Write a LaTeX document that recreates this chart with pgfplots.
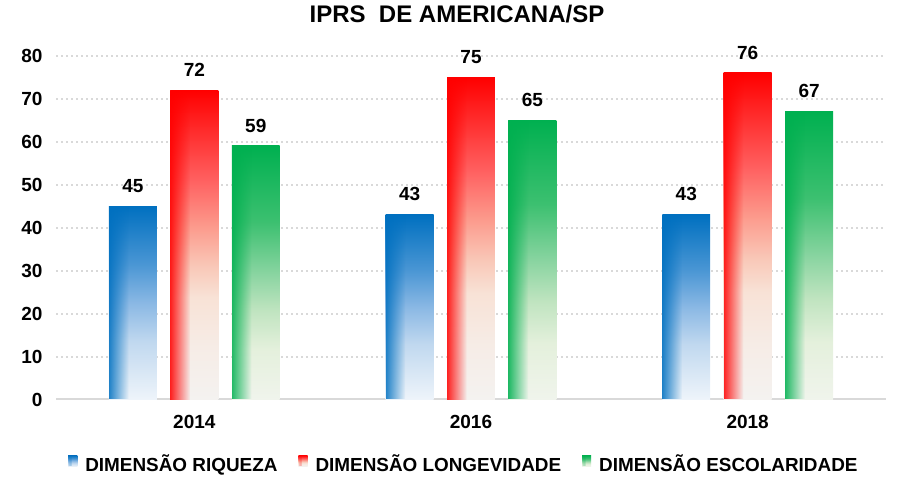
\documentclass[border=0pt]{standalone}
\usepackage{fontspec}
\setmainfont{Liberation Sans}
\usepackage{pgfplots}
\pgfplotsset{compat=1.18}
\usetikzlibrary{fadings}
\definecolor{cblue}{HTML}{0070C0}
\definecolor{cred}{HTML}{FF0000}
\definecolor{cgreen}{HTML}{00B050}
\definecolor{gridc}{HTML}{D9D9D9}
\definecolor{r1}{HTML}{F4F2F0}\definecolor{r2}{HTML}{F6ECE6}\definecolor{r3}{HTML}{F8E2D6}
\definecolor{r4}{HTML}{F9C8B8}\definecolor{r5}{HTML}{FC9A8C}\definecolor{r6}{HTML}{FF6060}\definecolor{r7}{HTML}{FF3535}
\definecolor{b1}{HTML}{EEF4FA}\definecolor{b2}{HTML}{C0D8EF}\definecolor{b3}{HTML}{8AB8E4}\definecolor{b4}{HTML}{4A96D4}
\definecolor{g1}{HTML}{F0F4EC}\definecolor{g2}{HTML}{E4F0DC}\definecolor{g3}{HTML}{C0E4C0}\definecolor{g4}{HTML}{88D4A0}\definecolor{g5}{HTML}{3CC070}
\pgfdeclareverticalshading{redv}{100bp}{color(0bp)=(r1); color(25bp)=(r1); color(33.5bp)=(r2); color(41.5bp)=(r3); color(46.5bp)=(r4); color(53bp)=(r5); color(60.5bp)=(r6); color(67bp)=(r7); color(75bp)=(cred); color(100bp)=(cred)}
\pgfdeclareverticalshading{bluev}{100bp}{color(0bp)=(b1); color(25bp)=(b1); color(40bp)=(b2); color(50bp)=(b3); color(60bp)=(b4); color(75bp)=(cblue); color(100bp)=(cblue)}
\pgfdeclareverticalshading{greenv}{100bp}{color(0bp)=(g1); color(25bp)=(g1); color(35bp)=(g2); color(42.5bp)=(g3); color(50bp)=(g4); color(60bp)=(g5); color(75bp)=(cgreen); color(100bp)=(cgreen)}
\begin{tikzfadingfrompicture}[name=leftstrip]
  \shade[left color=transparent!0, right color=transparent!100] (-1cm,-1cm) rectangle (-0.15cm,1cm);
  \fill[transparent!100] (-0.15cm,-1cm) rectangle (1cm,1cm);
\end{tikzfadingfrompicture}
\newcommand\lbl{\fontsize{19}{22}\selectfont\bfseries}
\pgfplotsset{
  mybase/.style n args={2}{draw=none, shade, shading=#2,
    nodes near coords, nodes near coords style={font=\lbl, text=black, yshift=10pt},
    legend image code/.code={\path[draw=none, shade, shading=#2] (0pt,-3pt) rectangle (9pt,8pt);
      \path[draw=none, fill=#1, path fading=leftstrip] (0pt,-3pt) rectangle (9pt,8pt);}},
  myover/.style={draw=none, fill=#1, path fading=leftstrip},
}
\newcommand\onebar[5]{%
  \addplot[mybase={#1}{#2}, bar shift=#3, forget plot] coordinates {(#4,#5)};
  \addplot[myover=#1, bar shift=#3, forget plot] coordinates {(#4,#5)};
}
\begin{document}
\begin{tikzpicture}
\begin{axis}[
  at={(56pt,86.5pt)}, anchor=south west,
  scale only axis, width=830pt, height=343.8pt,
  xmin=-0.5, xmax=2.5, ymin=0, ymax=80,
  ytick={0,10,...,80}, xtick={0,1,2}, xticklabels={2014,2016,2018},
  axis x line*=bottom, axis y line*=left,
  y axis line style={draw=none},
  x axis line style={draw=gridc, line width=2pt},
  major tick length=0pt,
  ymajorgrids, grid style={draw=gridc, line width=2pt, dash pattern=on 2pt off 3pt},
  /pgf/number format/assume math mode=true,
  tick label style={font=\lbl, text=black},
  xticklabel style={yshift=-12pt},
  yticklabel style={xshift=-10pt},
  ybar, bar width=0.1733,
  legend columns=3,
  legend style={draw=none, at={(0.4915,-0.186)}, anchor=center, font=\fontsize{18.9}{22}\selectfont\bfseries,
    /tikz/every odd column/.append style={column sep=6pt},
    /tikz/every even column/.append style={column sep=19pt}},
  clip=false,
]
\onebar{cblue}{bluev}{-0.222}{0}{45}
\onebar{cblue}{bluev}{-0.222}{1}{43}
\onebar{cblue}{bluev}{-0.222}{2}{43}
\onebar{cred}{redv}{0}{0}{72}
\onebar{cred}{redv}{0}{1}{75}
\onebar{cred}{redv}{0}{2}{76}
\onebar{cgreen}{greenv}{0.222}{0}{59}
\onebar{cgreen}{greenv}{0.222}{1}{65}
\onebar{cgreen}{greenv}{0.222}{2}{67}
\addlegendimage{mybase={cblue}{bluev}}
\addlegendentry{DIMENSÃO RIQUEZA}
\addlegendimage{mybase={cred}{redv}}
\addlegendentry{DIMENSÃO LONGEVIDADE}
\addlegendimage{mybase={cgreen}{greenv}}
\addlegendentry{DIMENSÃO ESCOLARIDADE}
\end{axis}
\node[anchor=base, font=\fontsize{24}{27}\selectfont\bfseries] at (457pt,463pt) {IPRS\ \ DE AMERICANA/SP};
\pgfresetboundingbox
\path (0,0) rectangle (899pt,486pt);
\end{tikzpicture}
\end{document}
